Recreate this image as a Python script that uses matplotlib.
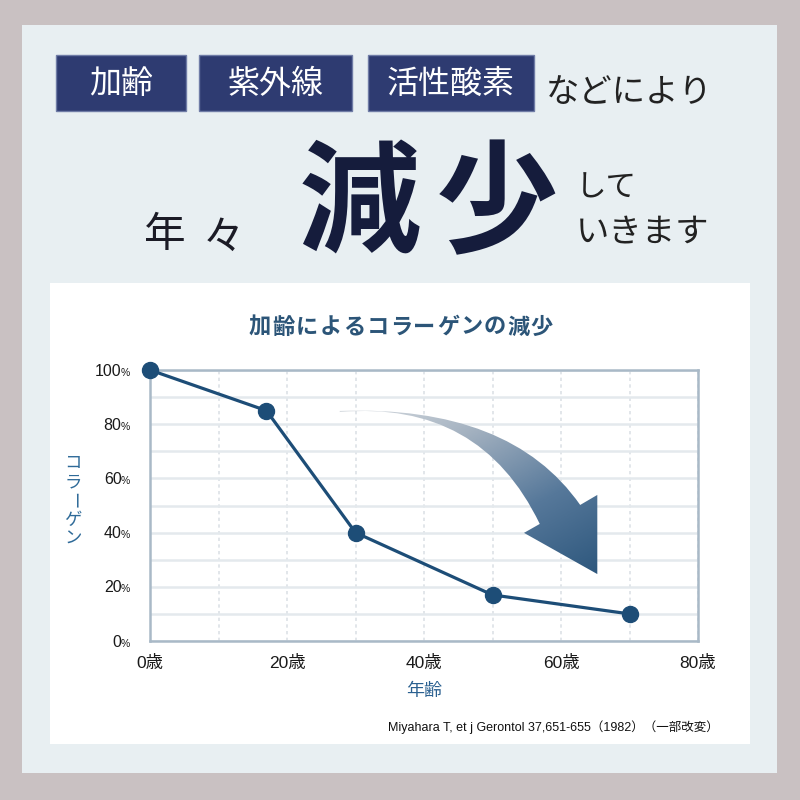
import matplotlib
matplotlib.use('Agg')
import matplotlib.pyplot as plt
import numpy as np
from matplotlib.patches import Rectangle, PathPatch
from matplotlib.path import Path
from matplotlib.colors import LinearSegmentedColormap

plt.rcParams['font.family'] = ['Noto Sans CJK JP', 'DejaVu Sans']

# data
ages = [0, 17, 30, 50, 70]
collagen = [100, 85, 40, 17, 10]
x_ticks = [0, 20, 40, 60, 80]
x_tick_labels = ['0歳', '20歳', '40歳', '60歳', '80歳']
y_ticks = [0, 20, 40, 60, 80, 100]
tags = ['加齢', '紫外線', '活性酸素']
chart_title = '加齢によるコラーゲンの減少'
y_label = 'コラーゲン'
x_label = '年齢'
source = 'Miyahara T, et j Gerontol 37,651-655（1982）（一部改変）'

NAVY = '#1d4d77'
num_font = ['Liberation Sans', 'Noto Sans CJK JP']


def fx(x):
    return x / 800


def fy(y):
    return 1 - y / 800


fig = plt.figure(figsize=(8, 8), dpi=100)
fig.patch.set_facecolor('#c9c1c2')

# light background panel + white chart panel
fig.add_artist(Rectangle((fx(22), fy(773)), 755 / 800, 748 / 800, transform=fig.transFigure,
                         facecolor='#e8eff2', edgecolor='none', zorder=0))
fig.add_artist(Rectangle((fx(50), fy(744)), 700 / 800, 461 / 800, transform=fig.transFigure,
                         facecolor='white', edgecolor='none', zorder=0))

# header boxes
box_spans = [(56, 186), (199, 352), (368, 534)]
for tag, (x0, x1) in zip(tags, box_spans):
    fig.add_artist(Rectangle((fx(x0), fy(111)), (x1 - x0) / 800, 56 / 800, transform=fig.transFigure,
                             facecolor='#2e3b71', edgecolor='#6f7ca6', lw=1, zorder=1))
    fig.text(fx((x0 + x1) / 2), fy(84), tag, color='white', fontsize=23,
             ha='center', va='center', zorder=2)
fig.text(fx(546), fy(93), 'などにより', color='#222222', fontsize=24, ha='left', va='center')

# big headline
fig.text(fx(165), fy(235), '年', color='#1b1b26', fontsize=30, ha='center', va='center')
fig.text(fx(224), fy(238), '々', color='#1b1b26', fontsize=30, ha='center', va='center')
fig.text(fx(360), fy(208), '減', color='#151c3c', fontsize=88, fontweight='bold', ha='center', va='center')
fig.text(fx(497), fy(208), '少', color='#151c3c', fontsize=88, fontweight='bold', ha='center', va='center')
fig.text(fx(576), fy(188), 'して', color='#222222', fontsize=22, ha='left', va='center')
fig.text(fx(576), fy(232), 'いきます', color='#222222', fontsize=24, ha='left', va='center')

# chart title, letter spaced
for i, ch in enumerate(chart_title):
    fig.text(fx(260 + i * 23.5), fy(327), ch, color='#2c5578', fontsize=16, fontweight='bold',
             ha='center', va='center')

# vertical y label
for i, ch in enumerate(y_label):
    fig.text(fx(73), fy(463 + i * 19), ch, color='#2e6a98', fontsize=12.5, ha='center', va='center',
             rotation=-90 if ch == 'ー' else 0)

ax = fig.add_axes([150 / 800, 1 - 641 / 800, 548 / 800, 271 / 800])
ax.set_facecolor('none')
ax.set_xlim(0, 80)
ax.set_ylim(0, 100)

# grid
ax.set_yticks(np.arange(0, 101, 10))
ax.set_yticklabels([])
ax.set_xticks(x_ticks)
ax.set_xticks(np.arange(10, 80, 20), minor=True)
ax.set_xticklabels(x_tick_labels, fontsize=12.5, family=num_font, color='#1a1a1a')
ax.tick_params(axis='both', which='both', length=0)
ax.tick_params(axis='x', pad=10)
ax.grid(axis='y', color='#e4e9ed', lw=1.8)
ax.grid(axis='x', which='both', color='#dde2e6', lw=1.2, linestyle=(0, (2, 2)))
ax.set_axisbelow(True)
for s in ax.spines.values():
    s.set_color('#a9b9c7')
    s.set_linewidth(1.8)

# y tick labels with small %
for v in y_ticks:
    ax.annotate(str(v), xy=(0, v), xycoords=('axes fraction', 'data'), xytext=(-20.5, -4),
                textcoords='offset points', ha='right', va='baseline', fontsize=11.5,
                family=num_font, color='#1a1a1a')
    ax.annotate('%', xy=(0, v), xycoords=('axes fraction', 'data'), xytext=(-21.5, -4),
                textcoords='offset points', ha='left', va='baseline', fontsize=7.5,
                family=['Liberation Sans'], color='#1a1a1a')

ax.set_xlabel(x_label, color='#2a6090', fontsize=13, labelpad=8)

# gradient arrow
arrow_verts = [(27.7, 84.9), (52.6, 87.1), (62.8, 50.2), (65.3, 53.9), (65.3, 24.7),
               (54.6, 39.9), (56.9, 43.2), (48.2, 88.9), (27.7, 84.5), (27.7, 84.9)]
arrow_codes = [Path.MOVETO, Path.CURVE3, Path.CURVE3, Path.LINETO, Path.LINETO,
               Path.LINETO, Path.LINETO, Path.CURVE3, Path.CURVE3, Path.CLOSEPOLY]
arrow_patch = PathPatch(Path(arrow_verts, arrow_codes), facecolor='none', edgecolor='none')
ax.add_patch(arrow_patch)
gx, gy = np.meshgrid(np.linspace(27, 66, 200), np.linspace(24, 90, 200))
grad = 0.45 * (gx - 27) / 39 + 0.55 * (90 - gy) / 66
cmap = LinearSegmentedColormap.from_list('arr', ['#e0e3e6', '#a3b1c0', '#56789a', '#2c567c'])
im = ax.imshow(grad, extent=(27, 66, 24, 90), origin='lower', cmap=cmap, aspect='auto', zorder=2)
im.set_clip_path(arrow_patch)
ax.set_xlim(0, 80)
ax.set_ylim(0, 100)

# data line
ax.plot(ages, collagen, color=NAVY, lw=2.3, marker='o', markersize=11.5, clip_on=False, zorder=5)

# source note
fig.text(fx(719), fy(727), source, fontsize=9, ha='right', va='center', color='#111111',
         family=['Liberation Sans Narrow', 'Liberation Sans', 'Noto Sans CJK JP'])

fig.savefig('out.png', dpi=100, facecolor=fig.get_facecolor())
